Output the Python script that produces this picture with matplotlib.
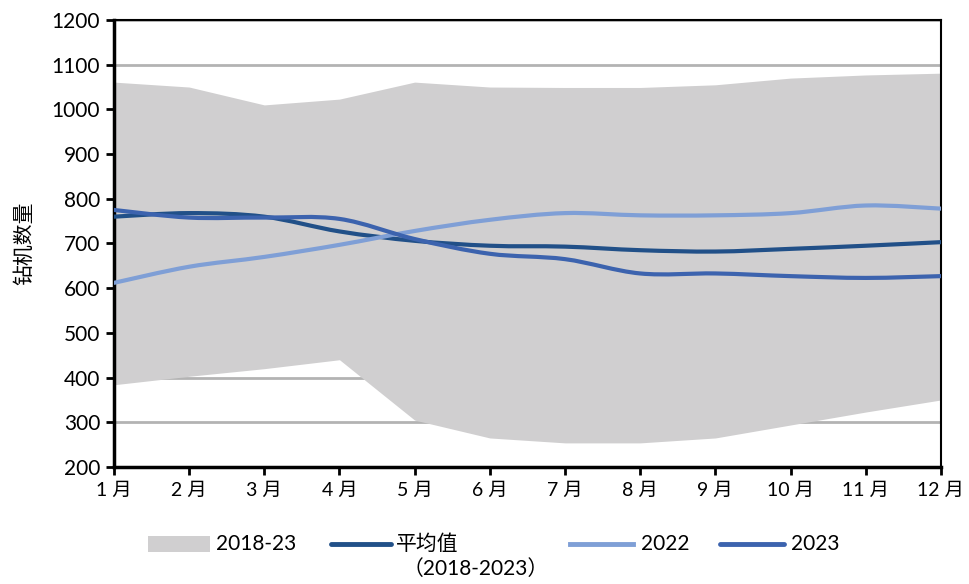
import numpy as np
import matplotlib.pyplot as plt
from matplotlib.path import Path
from matplotlib.patches import PathPatch, Rectangle
from matplotlib.lines import Line2D

plt.rcParams['font.family'] = ['Lato', 'Noto Sans CJK SC', 'DejaVu Sans']

months = ['%d 月' % m for m in range(1, 13)]
band_high = [1061, 1050, 1010, 1023, 1061, 1050, 1049, 1049, 1055, 1070, 1077, 1081]
band_low = [384, 403, 420, 440, 305, 265, 254, 254, 265, 294, 323, 350]
mean_1823 = [760, 768, 760, 727, 706, 695, 693, 685, 682, 688, 695, 703]
y2022 = [612, 648, 670, 697, 728, 753, 768, 763, 763, 768, 785, 778]
y2023 = [775, 758, 758, 755, 710, 677, 665, 633, 633, 627, 623, 627]

c_band = '#d0cfd0'
c_mean = '#215088'
c_2022 = '#7f9fd6'
c_2023 = '#3c63ae'


def smooth_path(x, y):
    # excel style smoothed line: bezier through the data points
    x = np.asarray(x, float)
    y = np.asarray(y, float)
    verts = [(x[0], y[0])]
    codes = [Path.MOVETO]
    n = len(x)
    for i in range(n - 1):
        p0 = (x[max(i - 1, 0)], y[max(i - 1, 0)])
        p1 = (x[i], y[i])
        p2 = (x[i + 1], y[i + 1])
        p3 = (x[min(i + 2, n - 1)], y[min(i + 2, n - 1)])
        c1 = (p1[0] + (p2[0] - p0[0]) / 6, p1[1] + (p2[1] - p0[1]) / 6)
        c2 = (p2[0] - (p3[0] - p1[0]) / 6, p2[1] - (p3[1] - p1[1]) / 6)
        verts += [c1, c2, p2]
        codes += [Path.CURVE4] * 3
    return Path(verts, codes)


fig = plt.figure(figsize=(9.69, 5.84), dpi=100)
ax = fig.add_axes([0.1176, 0.2003, 0.8534, 0.7655])

x = np.arange(12)
ax.fill_between(x, band_low, band_high, color=c_band, lw=0, zorder=2)
for vals, col in [(mean_1823, c_mean), (y2022, c_2022), (y2023, c_2023)]:
    ax.add_patch(PathPatch(smooth_path(x, vals), fill=False, edgecolor=col,
                           lw=3, capstyle='round', zorder=3))

ax.set_xlim(0, 11)
ax.set_ylim(200, 1200)
ax.set_yticks(np.arange(200, 1201, 100))
ax.set_xticks(x)
ax.set_xticklabels(months)
ax.yaxis.grid(True, color='#b3b3b3', lw=2)
ax.set_axisbelow(True)
for s in ['left', 'bottom']:
    ax.spines[s].set_linewidth(2.5)
for s in ['top', 'right']:
    ax.spines[s].set_linewidth(1.5)
ax.tick_params(axis='y', direction='out', length=6, width=2, labelsize=15, pad=4)
ax.tick_params(axis='x', direction='out', length=6, width=2, labelsize=14, pad=5)
ax.set_ylabel('钻机数量', fontsize=15, family=['Noto Sans CJK SC'], labelpad=12)

# legend drawn by hand
ly = 1 - 544 / 584
fig.add_artist(Rectangle((148 / 969, ly - 0.013), 62 / 969, 0.026,
                         transform=fig.transFigure, color=c_band, lw=0))
fig.text(216 / 969, ly, '2018-23', fontsize=15, va='center')
fig.add_artist(Line2D([331 / 969, 391 / 969], [ly, ly], transform=fig.transFigure,
                      color=c_mean, lw=3.5, solid_capstyle='round'))
fig.text(396 / 969, ly, '平均值', fontsize=15, va='center', family=['Noto Sans CJK SC'])
fig.text(403 / 969, 1 - 569 / 584, '（2018-2023）', fontsize=15, va='center', ha='left',
         family=['Lato', 'Noto Sans CJK SC'])
fig.add_artist(Line2D([570 / 969, 633 / 969], [ly, ly], transform=fig.transFigure,
                      color=c_2022, lw=3.5))
fig.text(641 / 969, ly, '2022', fontsize=15, va='center')
fig.add_artist(Line2D([720 / 969, 784 / 969], [ly, ly], transform=fig.transFigure,
                      color=c_2023, lw=3.5, solid_capstyle='round'))
fig.text(791 / 969, ly, '2023', fontsize=15, va='center')

fig.savefig('out.png', dpi=100)
